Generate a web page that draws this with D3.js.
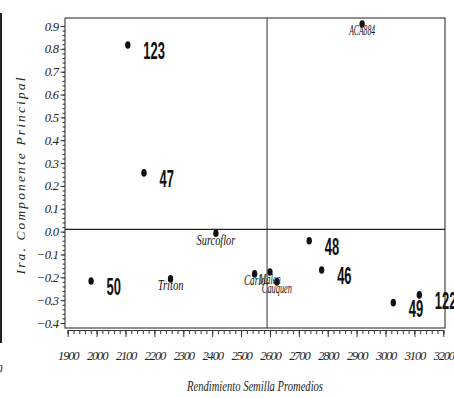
<!DOCTYPE html>
<html><head><meta charset="utf-8">
<script src="https://cdn.jsdelivr.net/npm/d3@7"></script>
<style>
html,body{margin:0;padding:0;background:#fff;}
svg{display:block;}
</style></head>
<body>
<svg id="chart" width="454" height="398"></svg>
<script>
// ---- data ----
const names   = ["123","47","ACA884","50","Triton","Surcoflor","Carlo","Malen","Cauquen","48","46","49","122"];
const yieldX  = [2108, 2164, 2919, 1981, 2256, 2413, 2547, 2600, 2624, 2736, 2779, 3027, 3117];
const comp1Y  = [0.817, 0.257, 0.909, -0.216, -0.207, -0.007, -0.185, -0.177, -0.220, -0.040, -0.168, -0.311, -0.277];
const numeric = [true, true, false, true, false, false, false, false, false, true, true, true, true];
const xTicks  = [1900,2000,2100,2200,2300,2400,2500,2600,2700,2800,2900,3000,3100,3200];
const yTicks  = [-0.4,-0.3,-0.2,-0.1,0.0,0.1,0.2,0.3,0.4,0.5,0.6,0.7,0.8,0.9];
const refX = 2590, refY = 0.01;
const xTitle = "Rendimiento Semilla Promedios";
const yTitle = "Ira. Componente Principal";

const svg = d3.select("#chart");
const serif = "'Liberation Serif','DejaVu Serif',serif";
const W = {L:65, R:445, T:18, B:328};

const x = d3.scaleLinear().domain([1900,3200]).range([67.7,443.3]);
const y = d3.scaleLinear().domain([-0.4,0.9]).range([323,26]);

// left cropped border artifact
svg.append("line").attr("x1",1).attr("x2",1).attr("y1",13).attr("y2",343)
  .attr("stroke","#222").attr("stroke-width",2);
svg.append("text").attr("x",-4).attr("y",373).attr("font-family",serif)
  .attr("font-style","italic").attr("font-size",13).attr("fill","#333").text("0");

// frame
svg.append("rect").attr("x",W.L).attr("y",W.T).attr("width",W.R-W.L).attr("height",W.B-W.T)
  .attr("fill","none").attr("stroke","#444").attr("stroke-width",1.2);

// reference lines
svg.append("line").attr("x1",x(refX)).attr("x2",x(refX)).attr("y1",W.T).attr("y2",W.B)
  .attr("stroke","#333").attr("stroke-width",1);
svg.append("line").attr("x1",W.L).attr("x2",W.R).attr("y1",y(refY)).attr("y2",y(refY))
  .attr("stroke","#222").attr("stroke-width",1.2);

// x axis minor
const xMinor = d3.range(1900,3201,20);
svg.append("g").attr("transform",`translate(0,${W.B+2})`)
  .call(d3.axisBottom(x).tickValues(xMinor).tickSize(4).tickFormat(""))
  .call(g=>g.selectAll("line,path").attr("stroke","#333"));
const gx = svg.append("g").attr("transform",`translate(0,${W.B+2})`)
  .call(d3.axisBottom(x).tickValues(xTicks).tickSize(7).tickSizeOuter(0).tickPadding(14).tickFormat(d3.format("d")));
gx.select(".domain").attr("stroke","#333");
gx.selectAll("line").attr("stroke","#333");
gx.selectAll("text").attr("font-family",serif).attr("font-style","italic")
  .attr("font-size",12.5).attr("fill","#222").attr("letter-spacing","-1.2px");

// y axis
const yMinor = d3.range(-0.4,0.9001,0.02);
svg.append("g").attr("transform",`translate(${W.L},0)`)
  .call(d3.axisLeft(y).tickValues(yMinor).tickSize(2.5).tickFormat(""))
  .call(g=>g.select(".domain").remove())
  .call(g=>g.selectAll("line").attr("stroke","#333"));
const gy = svg.append("g").attr("transform",`translate(${W.L},0)`)
  .call(d3.axisLeft(y).tickValues(yTicks).tickSize(4.5).tickPadding(2).tickFormat(d3.format(".1f")));
gy.select(".domain").remove();
gy.selectAll("line").attr("stroke","#333");
gy.selectAll("text").attr("font-family",serif).attr("font-style","italic")
  .attr("font-size",12.5).attr("fill","#222").attr("letter-spacing","-0.6px");

// titles
svg.append("text").attr("x",255).attr("y",391).attr("text-anchor","middle")
  .attr("font-family",serif).attr("font-style","italic").attr("font-size",14)
  .attr("fill","#222").attr("textLength",136).attr("lengthAdjust","spacingAndGlyphs").text(xTitle);
svg.append("text").attr("transform","translate(25,176) rotate(-90)").attr("text-anchor","middle")
  .attr("font-family",serif).attr("font-style","italic").attr("font-size",13.5)
  .attr("fill","#222").attr("textLength",197).attr("lengthAdjust","spacing").text(yTitle);

// points
const data = names.map((n,i)=>({n, x:yieldX[i], y:comp1Y[i], num:numeric[i]}));
svg.append("g").selectAll("ellipse").data(data).join("ellipse")
  .attr("cx",d=>x(d.x)).attr("cy",d=>y(d.y)).attr("rx",2.7).attr("ry",3.8).attr("fill","#111");

// labels
svg.append("g").selectAll("text").data(data).join("text")
  .attr("x",d=>d.num ? x(d.x)+15.5 : x(d.x))
  .attr("y",d=>d.num ? y(d.y)+14.5 : y(d.y)+11.5)
  .attr("text-anchor",d=>d.num ? "start" : "middle")
  .attr("font-family",d=>d.num ? "'Liberation Sans Narrow','Liberation Sans',Arial,sans-serif" : serif)
  .attr("font-style",d=>d.num ? "normal" : "italic")
  .attr("font-weight",d=>d.num ? "bold" : "normal")
  .attr("font-size",d=>d.num ? 23 : 15)
  .attr("textLength",d=>d.num ? d.n.length*7.2 : d.n.length*4.3)
  .attr("lengthAdjust","spacingAndGlyphs")
  .attr("fill","#111")
  .text(d=>d.n);
</script>
</body></html>
